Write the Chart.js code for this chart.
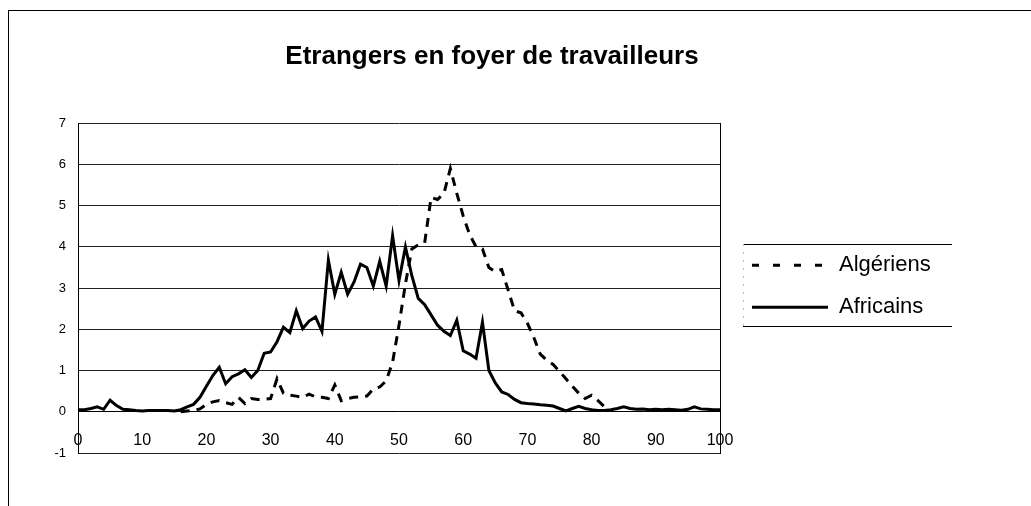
<!DOCTYPE html>
<html>
<head>
<meta charset="utf-8">
<script src="https://cdn.jsdelivr.net/npm/chart.js@4.4.1/dist/chart.umd.min.js"></script>
<style>
  html, body { margin: 0; padding: 0; background: #fff; }
  #cadre { position: absolute; left: 8px; top: 10px; width: 1100px; height: 600px;
           border-top: 1px solid #000; border-left: 1px solid #000; }
  #zone { position: absolute; left: 0; top: 0; width: 1031px; height: 506px; }
</style>
</head>
<body>
<div id="cadre"></div>
<div id="zone"><canvas id="graphe" width="1031" height="506"></canvas></div>
<script>
// Âges (abscisse)
const ages = [0, 1, 2, 3, 4, 5, 6, 7, 8, 9, 10, 11, 12, 13, 14, 15, 16, 17, 18, 19,
  20, 21, 22, 23, 24, 25, 26, 27, 28, 29, 30, 31, 32, 33, 34, 35, 36, 37, 38, 39,
  40, 41, 42, 43, 44, 45, 46, 47, 48, 49, 50, 51, 52, 53, 54, 55, 56, 57, 58, 59,
  60, 61, 62, 63, 64, 65, 66, 67, 68, 69, 70, 71, 72, 73, 74, 75, 76, 77, 78, 79,
  80, 81, 82, 83, 84, 85, 86, 87, 88, 89, 90, 91, 92, 93, 94, 95, 96, 97, 98, 99, 100];

// Algériens (%), de 0 à 100 ans
const algeriens = [null, null, null, null, null, null, null, null, null, null,
  null, null, null, null, null, null, 0.0, 0.02, 0.03, 0.07,
  0.18, 0.24, 0.27, 0.22, 0.18, 0.35, 0.2, 0.32, 0.3, 0.3,
  0.32, 0.8, 0.45, 0.4, 0.38, 0.35, 0.43, 0.36, 0.35, 0.32,
  0.65, 0.27, 0.32, 0.35, 0.36, 0.38, 0.55, 0.6, 0.75, 1.2,
  2.1, 3.1, 3.95, 4.05, 4.1, 5.2, 5.15, 5.3, 5.9, 5.3,
  4.75, 4.3, 4.0, 3.95, 3.5, 3.4, 3.45, 2.95, 2.45, 2.4,
  2.15, 1.8, 1.4, 1.25, 1.15, 0.98, 0.8, 0.62, 0.45, 0.32,
  0.4, 0.27, 0.12, null, null, null, null, null, null, null,
  null, null, null, null, null, null, null, null, null, null, null];

// Africains (%), de 0 à 100 ans
const africains = [0.05, 0.05, 0.08, 0.12, 0.06, 0.28, 0.15, 0.06, 0.05, 0.03,
  0.02, 0.03, 0.03, 0.03, 0.03, 0.02, 0.05, 0.12, 0.18, 0.35,
  0.62, 0.88, 1.08, 0.68, 0.85, 0.92, 1.02, 0.83, 1.0, 1.42,
  1.45, 1.7, 2.05, 1.92, 2.45, 2.02, 2.2, 2.3, 1.95, 3.68,
  2.85, 3.38, 2.85, 3.15, 3.58, 3.5, 3.05, 3.65, 3.05, 4.27,
  3.18, 4.0, 3.3, 2.75, 2.6, 2.35, 2.1, 1.95, 1.85, 2.22,
  1.48, 1.4, 1.3, 2.17, 1.0, 0.7, 0.48, 0.42, 0.3, 0.22,
  0.2, 0.19, 0.17, 0.16, 0.14, 0.08, 0.02, 0.08, 0.13, 0.08,
  0.05, 0.03, 0.03, 0.05, 0.08, 0.12, 0.08, 0.06, 0.07, 0.05,
  0.06, 0.05, 0.06, 0.05, 0.04, 0.06, 0.12, 0.07, 0.06, 0.05, 0.05];

const police = '"Liberation Sans", Arial, sans-serif';

function points(valeurs) {
  return ages.map((a, i) => ({ x: a, y: valeurs[i] }));
}

// cadre de la légende + largeur fixe de la légende
const cadreLegende = {
  id: 'cadreLegende',
  beforeUpdate(chart) {
    const lg = chart.legend;
    if (lg && !lg._largeurFixe) {
      const fitOrig = lg.fit.bind(lg);
      lg.fit = function() { fitOrig(); this.width = 244; };
      lg._largeurFixe = true;
    }
  },
  afterDraw(chart) {
    const lg = chart.legend;
    const hb = lg.legendHitBoxes;
    if (!hb || !hb.length) return;
    const ctx = chart.ctx;
    const haut = Math.round(hb[0].top - 10);
    const bas = Math.round(hb[hb.length - 1].top + hb[hb.length - 1].height + 8);
    const g = Math.round(lg.left + 11), d = Math.round(lg.left + 220);
    ctx.save();
    ctx.strokeStyle = '#000';
    ctx.lineWidth = 1;
    ctx.beginPath();
    ctx.moveTo(g, haut + 0.5); ctx.lineTo(d, haut + 0.5);
    ctx.moveTo(g, bas + 0.5); ctx.lineTo(d, bas + 0.5);
    ctx.stroke();
    ctx.strokeStyle = '#bbb';
    ctx.setLineDash([2, 6]);
    ctx.beginPath();
    ctx.moveTo(g + 0.5, haut); ctx.lineTo(g + 0.5, bas);
    ctx.stroke();
    ctx.restore();
  }
};

new Chart(document.getElementById('graphe'), {
  type: 'line',
  data: {
    datasets: [{
      label: 'Algériens',
      data: points(algeriens),
      borderColor: '#000',
      borderWidth: 3,
      borderDash: [9, 7],
      pointRadius: 0,
      tension: 0,
      fill: false
    }, {
      label: 'Africains',
      data: points(africains),
      borderColor: '#000',
      borderWidth: 3,
      pointRadius: 0,
      tension: 0,
      fill: false
    }]
  },
  options: {
    responsive: false,
    animation: false,
    layout: { padding: { left: 8, right: 55, top: 10, bottom: 53 } },
    plugins: {
      title: {
        display: true,
        text: 'Etrangers en foyer de travailleurs',
        color: '#000',
        font: { size: 26, weight: 'bold', family: police },
        padding: { top: 31, bottom: 51 }
      },
      legend: {
        position: 'right',
        title: { display: true, text: '', font: { size: 12 }, padding: { top: 0, bottom: 95 } },
        labels: {
          color: '#000',
          font: { size: 22, family: police },
          usePointStyle: true,
          pointStyle: 'line',
          pointStyleWidth: 76,
          padding: 20,
          generateLabels(chart) {
            const items = Chart.defaults.plugins.legend.labels.generateLabels(chart);
            items.forEach(it => {
              it.pointStyle = 'line';
              it.lineWidth = 3;
              it.strokeStyle = '#000';
              it.lineDash = it.datasetIndex === 0 ? [7, 14] : [];
            });
            return items;
          }
        }
      },
      tooltip: { enabled: false }
    },
    scales: {
      x: {
        type: 'linear',
        min: 0,
        max: 100,
        position: { y: 0 },
        grid: { display: false },
        border: { display: true, color: '#000', width: 1 },
        ticks: { stepSize: 10, color: '#000', font: { size: 16, family: police }, padding: 11, maxRotation: 0, autoSkip: false }
      },
      y: {
        min: -1,
        max: 7,
        grid: { color: '#222', lineWidth: 1, drawTicks: false },
        border: { display: true, color: '#000', width: 1 },
        ticks: { stepSize: 1, color: '#000', font: { size: 13, family: police }, padding: 12 },
        afterFit(s) { s.width = 70; }
      },
      y2: {
        position: 'right',
        min: -1,
        max: 7,
        grid: { display: false, drawTicks: false },
        border: { display: true, color: '#000', width: 1 },
        ticks: { display: false },
        afterFit(s) { s.width = 12; }
      }
    }
  },
  plugins: [cadreLegende]
});
</script>
</body>
</html>
